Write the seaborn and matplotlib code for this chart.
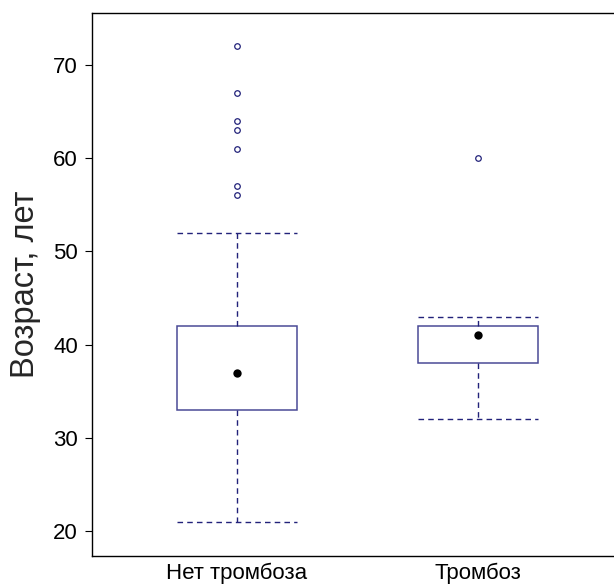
import pandas as pd
import matplotlib
matplotlib.use("Agg")
import matplotlib.pyplot as plt
import seaborn as sns

# Сводные статистики возраста по группам
groups = ["Нет тромбоза", "Тромбоз"]
whisker_low = [21, 32]
q1 = [33, 38]
median = [37, 41]
q3 = [42, 42]
whisker_high = [52, 43]

# Выбросы
outlier_group = ["Нет тромбоза"] * 7 + ["Тромбоз"]
outlier_age = [56, 57, 61, 63, 64, 67, 72, 60]

NAVY = "#22227a"
BOX_EDGE = "#4a4a96"

sns.set_theme(style="white")
plt.rcParams['font.family'] = ['Liberation Sans', 'DejaVu Sans']

fig = plt.figure(figsize=(6.14, 5.84), dpi=100)
ax = fig.add_axes([92 / 614, 28 / 584, (616 - 92) / 614, (556 - 13) / 584])

stats = []
for i, g in enumerate(groups):
    stats.append({
        'label': g,
        'whislo': whisker_low[i],
        'q1': q1[i],
        'med': median[i],
        'q3': q3[i],
        'whishi': whisker_high[i],
        'fliers': [],
    })

ax.bxp(stats, positions=range(len(groups)), widths=0.5, capwidths=0.5,
       patch_artist=True, showfliers=False,
       boxprops=dict(facecolor='white', edgecolor=BOX_EDGE, linewidth=1.1),
       whiskerprops=dict(color=NAVY, linestyle=(0, (4, 3)), linewidth=1.0),
       capprops=dict(color=NAVY, linestyle=(0, (4, 3)), linewidth=1.0),
       medianprops=dict(linewidth=0))

df_med = pd.DataFrame({'group': groups, 'age': median})
df_out = pd.DataFrame({'group': outlier_group, 'age': outlier_age})

sns.stripplot(data=df_med, x='group', y='age', order=groups, jitter=False,
              color='black', size=6, ax=ax, zorder=5)
sns.stripplot(data=df_out, x='group', y='age', order=groups, jitter=False,
              color='white', edgecolor=NAVY, linewidth=0.9, size=4.0, ax=ax, zorder=5)

ax.set_xlim(-0.602, 1.573)
ax.set_ylim(17.32, 75.58)
ax.set_yticks([20, 30, 40, 50, 60, 70])
ax.set_xticks(range(len(groups)))
ax.set_xticklabels(groups)

ax.set_xlabel('')
ax.set_ylabel('Возраст, лет', fontsize=23.5, labelpad=9)
ax.tick_params(axis='y', which='major', left=True, length=5, width=0.8,
               pad=5, labelsize=16, colors='black')
ax.tick_params(axis='x', length=0, pad=5, labelsize=16, colors='black')

for side in ['left', 'top', 'bottom', 'right']:
    ax.spines[side].set_color('black')
    ax.spines[side].set_linewidth(1.0)

fig.savefig('out.png', dpi=100)
